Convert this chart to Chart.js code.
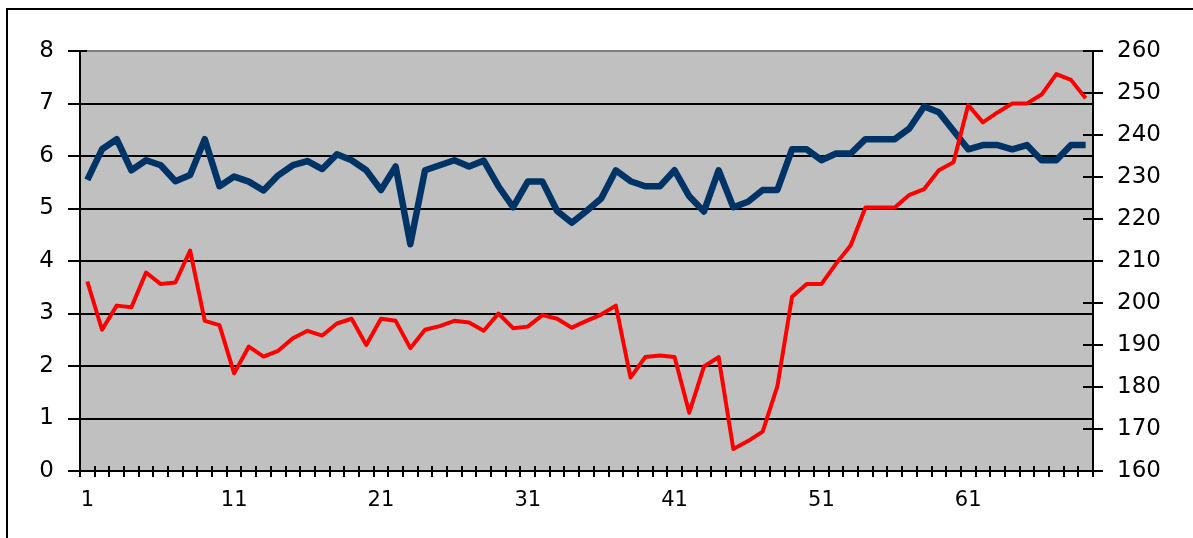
<!DOCTYPE html>
<html>
<head>
<meta charset="utf-8">
<script src="https://cdn.jsdelivr.net/npm/chart.js@4/dist/chart.umd.min.js"></script>
<style>
html,body{margin:0;padding:0;background:#fff;}
#wrap{position:relative;width:1193px;height:538px;}
</style>
</head>
<body>
<div id="wrap"><canvas id="c" width="1193" height="538"></canvas></div>
<script>
const categories = [1,2,3,4,5,6,7,8,9,10,11,12,13,14,15,16,17,18,19,20,21,22,23,24,25,26,27,28,29,30,31,32,33,34,35,36,37,38,39,40,41,42,43,44,45,46,47,48,49,50,51,52,53,54,55,56,57,58,59,60,61,62,63,64,65,66,67,68,69];

// red series, left axis (0-8)
const redSeries = [3.61,2.69,3.15,3.12,3.78,3.56,3.59,4.20,2.86,2.78,
  1.86,2.37,2.18,2.29,2.53,2.67,2.58,2.81,2.90,2.40,
  2.90,2.86,2.34,2.69,2.76,2.86,2.83,2.67,3.00,2.72,
  2.75,2.97,2.90,2.73,2.86,2.98,3.15,1.78,2.17,2.20,
  2.17,1.11,1.99,2.17,0.42,0.57,0.75,1.61,3.32,3.56,
  3.56,3.95,4.30,5.02,5.02,5.02,5.26,5.37,5.73,5.88,
  6.97,6.64,6.83,7.00,7.00,7.17,7.56,7.45,7.10];

// blue series, right axis (160-260)
const blueSeries = [229.3,236.6,239.0,231.6,234.0,232.8,229.0,230.5,239.0,227.8,
  230.1,228.9,226.8,230.4,232.8,233.8,231.9,235.4,234.0,231.6,
  226.9,232.5,214.0,231.6,232.8,234.0,232.5,233.9,227.8,222.8,
  228.9,228.9,221.9,219.1,221.9,224.9,231.6,229.0,227.8,227.8,
  231.6,225.4,221.8,231.6,222.8,224.1,226.9,226.9,236.6,236.6,
  234.0,235.6,235.6,239.0,239.0,239.0,241.6,246.8,245.4,241.0,
  236.6,237.6,237.6,236.6,237.6,234.0,234.0,237.6,237.6];

const xTickLabels = ['1','11','21','31','41','51','61'];
const leftTicks = [0,1,2,3,4,5,6,7,8];
const rightTicks = [160,170,180,190,200,210,220,230,240,250,260];

const FAMILY = '"DejaVu Sans", "Liberation Sans", Arial, sans-serif';
const FONT_Y = {family: FAMILY, size: 23};
const FONT_X = {family: FAMILY, size: 21};

const decor = {
  id: 'decor',
  beforeDraw(chart) {
    const {ctx, chartArea: a} = chart;
    ctx.save();
    ctx.fillStyle = '#C0C0C0';
    ctx.fillRect(a.left, a.top, a.right - a.left, a.bottom - a.top);
    ctx.strokeStyle = '#000';
    ctx.lineWidth = 2;
    ctx.beginPath();
    ctx.moveTo(7, 538);
    ctx.lineTo(7, 9);
    ctx.lineTo(1193, 9);
    ctx.stroke();
    ctx.restore();
  },
  afterDraw(chart) {
    const {ctx, chartArea: a} = chart;
    const xs = chart.scales.x, yr = chart.scales.y2, yl = chart.scales.y;
    ctx.save();
    ctx.strokeStyle = '#000';
    ctx.lineWidth = 2;
    ctx.beginPath();
    const w = xs.getPixelForValue(1) - xs.getPixelForValue(0);
    const x0 = xs.getPixelForValue(0) - w / 2;
    for (let i = 0; i <= categories.length; i++) {
      const x = Math.round(x0 + i * w);
      ctx.moveTo(x, a.bottom);
      ctx.lineTo(x, a.bottom - 5);
    }
    rightTicks.forEach(v => {
      const y = Math.round(yr.getPixelForValue(v));
      ctx.moveTo(a.right, y);
      ctx.lineTo(a.right - 10, y);
    });
    const yt = Math.round(yl.getPixelForValue(leftTicks[leftTicks.length - 1]));
    ctx.moveTo(a.left, yt);
    ctx.lineTo(a.left + 7, yt);
    ctx.stroke();
    ctx.restore();
  }
};

new Chart(document.getElementById('c'), {
  type: 'line',
  data: {
    labels: categories,
    datasets: [
      {
        label: 'red',
        data: redSeries,
        yAxisID: 'y',
        borderColor: '#FF0000',
        borderWidth: 4,
        pointRadius: 0,
        tension: 0,
        borderJoinStyle: 'round',
        fill: false
      },
      {
        label: 'blue',
        data: blueSeries,
        yAxisID: 'y2',
        borderColor: '#003366',
        borderWidth: 6.5,
        pointRadius: 0,
        tension: 0,
        borderJoinStyle: 'round',
        fill: false
      }
    ]
  },
  options: {
    responsive: false,
    animation: false,
    devicePixelRatio: 1,
    layout: {padding: {top: 51, left: 0, right: 0, bottom: 0}},
    plugins: {legend: {display: false}, tooltip: {enabled: false}},
    scales: {
      x: {
        type: 'category',
        offset: true,
        grid: {offset: true, drawOnChartArea: false, drawTicks: true, tickLength: 6, color: '#000', tickColor: '#000', lineWidth: 2, tickWidth: 2},
        border: {display: true, color: '#000', width: 2},
        ticks: {
          autoSkip: false, maxRotation: 0, minRotation: 0, padding: 11, color: '#000', font: FONT_X,
          callback: function(v, i) {
            const s = String(categories[i]);
            return xTickLabels.includes(s) ? s : '';
          }
        },
        afterFit(s) { s.height = 67; }
      },
      y: {
        position: 'left',
        min: leftTicks[0],
        max: leftTicks[leftTicks.length - 1],
        afterBuildTicks(s) { s.ticks = leftTicks.map(v => ({value: v})); },
        grid: {
          color: c => (c.tick && c.tick.value === leftTicks[leftTicks.length - 1]) ? '#808080' : '#000',
          tickColor: '#000', lineWidth: 2, tickWidth: 2, tickLength: 12, drawTicks: true
        },
        border: {display: true, color: '#000', width: 2},
        ticks: {padding: 14, color: '#000', font: FONT_Y, callback: v => String(v)},
        afterFit(s) { s.width = 80; }
      },
      y2: {
        position: 'right',
        min: rightTicks[0],
        max: rightTicks[rightTicks.length - 1],
        afterBuildTicks(s) { s.ticks = rightTicks.map(v => ({value: v})); },
        grid: {drawOnChartArea: false, tickColor: '#000', color: '#000', lineWidth: 2, tickWidth: 2, tickLength: 10, drawTicks: true},
        border: {display: true, color: '#000', width: 2},
        ticks: {padding: 14, color: '#000', font: FONT_Y, callback: v => String(v)},
        afterFit(s) { s.width = 100; }
      }
    }
  },
  plugins: [decor]
});
</script>
</body>
</html>
